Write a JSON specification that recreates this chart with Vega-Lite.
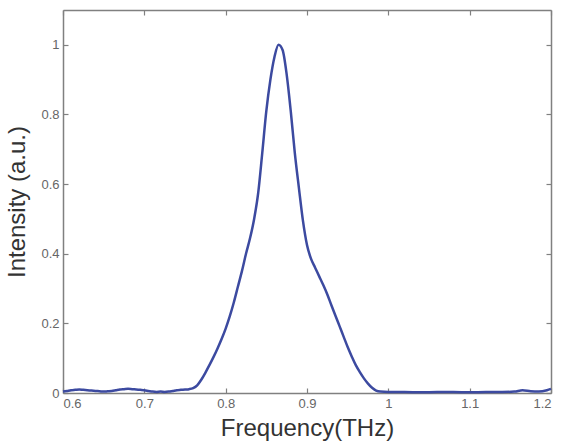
{
  "$schema": "https://vega.github.io/schema/vega-lite/v6.json",
  "width": 488,
  "height": 383,
  "autosize": {"type": "none"},
  "padding": {"left": 63, "top": 10, "right": 11, "bottom": 48},
  "background": "white",
  "config": {
    "view": {"stroke": null},
    "axis": {
      "labelFont": "Liberation Sans",
      "titleFont": "Liberation Sans",
      "labelFontSize": 13,
      "labelColor": "#666666",
      "titleFontSize": 24,
      "titleFontWeight": "normal",
      "titleColor": "#333333",
      "domainColor": "#808080",
      "domainWidth": 1.5,
      "tickColor": "#808080",
      "tickWidth": 1.2,
      "grid": false
    }
  },
  "data": {
    "values": [
      {"f": 0.600, "i": 0.004}, {"f": 0.605, "i": 0.006}, {"f": 0.610, "i": 0.008}, {"f": 0.615, "i": 0.009},
      {"f": 0.620, "i": 0.010}, {"f": 0.625, "i": 0.009}, {"f": 0.630, "i": 0.008}, {"f": 0.635, "i": 0.007},
      {"f": 0.640, "i": 0.006}, {"f": 0.645, "i": 0.005}, {"f": 0.650, "i": 0.004}, {"f": 0.655, "i": 0.005},
      {"f": 0.660, "i": 0.006}, {"f": 0.665, "i": 0.008}, {"f": 0.670, "i": 0.010}, {"f": 0.675, "i": 0.011},
      {"f": 0.680, "i": 0.012}, {"f": 0.685, "i": 0.011}, {"f": 0.690, "i": 0.010}, {"f": 0.695, "i": 0.009},
      {"f": 0.700, "i": 0.008}, {"f": 0.705, "i": 0.006}, {"f": 0.710, "i": 0.004}, {"f": 0.715, "i": 0.003},
      {"f": 0.720, "i": 0.004}, {"f": 0.725, "i": 0.003}, {"f": 0.730, "i": 0.004}, {"f": 0.735, "i": 0.006},
      {"f": 0.740, "i": 0.008}, {"f": 0.745, "i": 0.009}, {"f": 0.750, "i": 0.010}, {"f": 0.755, "i": 0.011},
      {"f": 0.760, "i": 0.014}, {"f": 0.765, "i": 0.022}, {"f": 0.770, "i": 0.038}, {"f": 0.775, "i": 0.058},
      {"f": 0.780, "i": 0.080}, {"f": 0.785, "i": 0.103}, {"f": 0.790, "i": 0.128}, {"f": 0.795, "i": 0.155},
      {"f": 0.800, "i": 0.185}, {"f": 0.805, "i": 0.220}, {"f": 0.810, "i": 0.260}, {"f": 0.815, "i": 0.305},
      {"f": 0.820, "i": 0.350}, {"f": 0.825, "i": 0.400}, {"f": 0.830, "i": 0.445}, {"f": 0.835, "i": 0.500},
      {"f": 0.840, "i": 0.575}, {"f": 0.845, "i": 0.690}, {"f": 0.850, "i": 0.810}, {"f": 0.855, "i": 0.900},
      {"f": 0.860, "i": 0.965}, {"f": 0.865, "i": 1.000}, {"f": 0.870, "i": 0.985}, {"f": 0.875, "i": 0.915},
      {"f": 0.880, "i": 0.810}, {"f": 0.885, "i": 0.690}, {"f": 0.890, "i": 0.590}, {"f": 0.895, "i": 0.495},
      {"f": 0.900, "i": 0.425}, {"f": 0.905, "i": 0.385}, {"f": 0.910, "i": 0.360}, {"f": 0.915, "i": 0.335},
      {"f": 0.920, "i": 0.310}, {"f": 0.925, "i": 0.283}, {"f": 0.930, "i": 0.252}, {"f": 0.935, "i": 0.222},
      {"f": 0.940, "i": 0.192}, {"f": 0.945, "i": 0.162}, {"f": 0.950, "i": 0.132}, {"f": 0.955, "i": 0.105},
      {"f": 0.960, "i": 0.080}, {"f": 0.965, "i": 0.060}, {"f": 0.970, "i": 0.042}, {"f": 0.975, "i": 0.027},
      {"f": 0.980, "i": 0.015}, {"f": 0.985, "i": 0.007}, {"f": 0.990, "i": 0.004}, {"f": 1.000, "i": 0.003},
      {"f": 1.020, "i": 0.003}, {"f": 1.040, "i": 0.002}, {"f": 1.060, "i": 0.003}, {"f": 1.080, "i": 0.003},
      {"f": 1.100, "i": 0.002}, {"f": 1.120, "i": 0.003}, {"f": 1.140, "i": 0.003}, {"f": 1.155, "i": 0.004},
      {"f": 1.165, "i": 0.008}, {"f": 1.175, "i": 0.005}, {"f": 1.185, "i": 0.004}, {"f": 1.195, "i": 0.008},
      {"f": 1.200, "i": 0.012}
    ]
  },
  "layer": [
    {
      "mark": {"type": "line", "color": "#3c4aa0", "strokeWidth": 2.5, "interpolate": "monotone"},
      "encoding": {
        "x": {
          "field": "f", "type": "quantitative",
          "scale": {"domain": [0.6, 1.2], "nice": false, "zero": false},
          "axis": {"orient": "bottom", "values": [0.6, 0.7, 0.8, 0.9, 1, 1.1, 1.2], "format": "~g",
                   "title": "Frequency(THz)", "tickSize": -5, "labelPadding": 9, "titlePadding": 6}
        },
        "y": {
          "field": "i", "type": "quantitative",
          "scale": {"domain": [0, 1.1], "nice": false},
          "axis": {"orient": "left", "values": [0, 0.2, 0.4, 0.6, 0.8, 1], "format": "~g",
                   "title": "Intensity (a.u.)", "tickSize": -5, "labelPadding": 9, "titlePadding": 11}
        }
      }
    },
    {
      "mark": {"type": "line", "opacity": 0},
      "encoding": {
        "x": {
          "field": "f", "type": "quantitative",
          "scale": {"domain": [0.6, 1.2], "nice": false, "zero": false},
          "axis": {"orient": "top", "values": [0.6, 0.7, 0.8, 0.9, 1, 1.1, 1.2], "labels": false, "title": null, "tickSize": -5}
        },
        "y": {
          "field": "i", "type": "quantitative",
          "scale": {"domain": [0, 1.1], "nice": false},
          "axis": {"orient": "right", "values": [0, 0.2, 0.4, 0.6, 0.8, 1], "labels": false, "title": null, "tickSize": -5}
        }
      }
    }
  ],
  "resolve": {"axis": {"x": "independent", "y": "independent"}}
}
